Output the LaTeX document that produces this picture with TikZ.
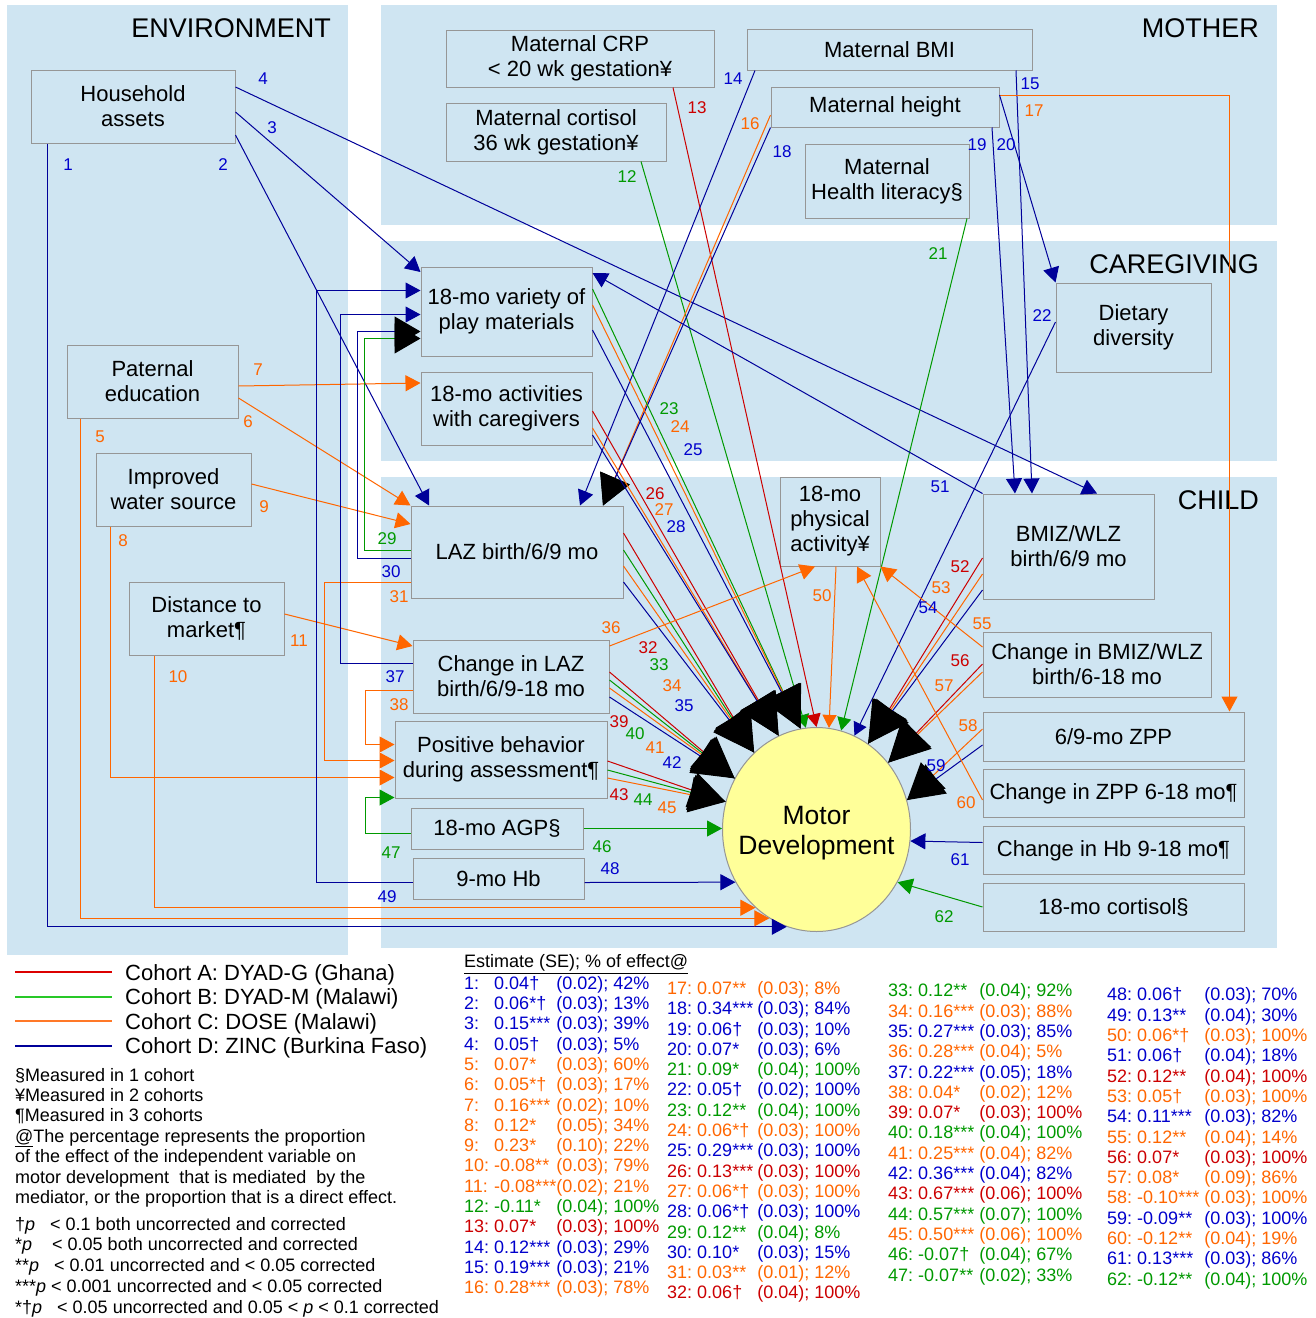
\documentclass[tikz,border=0pt]{standalone}
\usepackage{fontspec}
\setmainfont{Liberation Sans}
\usetikzlibrary{arrows.meta,shapes.geometric}
\definecolor{bg}{RGB}{207,229,242}
\definecolor{bord}{RGB}{150,150,150}
\definecolor{navy}{RGB}{0,0,153}
\definecolor{cred}{RGB}{204,0,0}
\definecolor{cgreen}{RGB}{0,153,0}
\definecolor{corange}{RGB}{255,102,0}
\definecolor{tblue}{RGB}{0,0,204}
\definecolor{yel}{RGB}{255,255,153}
\definecolor{lgred}{RGB}{220,0,0}
\definecolor{lggreen}{RGB}{40,200,40}
\definecolor{lgorange}{RGB}{255,120,40}
\newcommand\mylab[4]{\node[lab,text=#1] (n#2) at (#3,#4) {#2};}
\newcommand\bx[6]{\node[box,minimum width=#4pt,minimum height=#5pt] (#1) at (#2,#3) {#6};}
\newcommand\rw[4]{\textcolor{#1}{#2}&\textcolor{#1}{#3}&\textcolor{#1}{#4}\\}
\begin{document}
\begin{tikzpicture}[x=1pt,y=-1pt,
  box/.style={draw=bord,fill=bg,line width=1pt,align=center,inner sep=0pt,font=\fontsize{22}{25}\selectfont},
  ttl/.style={font=\fontsize{27}{30}\selectfont,inner sep=0pt,anchor=east},
  lab/.style={font=\fontsize{17}{20}\selectfont,inner sep=0pt},
  cA/.style={draw=cred,line width=1pt},
  cB/.style={draw=cgreen,line width=1pt},
  cC/.style={draw=corange,line width=1pt},
  cD/.style={draw=navy,line width=1pt},
  arr/.style={-{Triangle[length=15pt,width=16pt]}},
  arrs/.style={-{Triangle[length=13pt,width=14pt]}},
  big/.style={-{Triangle[length=41pt,width=40pt,color=black]}},
  bigZ/.style={-{Triangle[length=36pt,width=36pt,color=black]}},
  bigL/.style={-{Triangle[length=30pt,width=32pt,color=black]}},
  bigP/.style={-{Triangle[length=26pt,width=30pt,color=black]}},
  lgline/.style={line width=1.1pt},
  lgtext/.style={font=\fontsize{22}{25}\selectfont,inner sep=0pt,anchor=base west},
  note/.style={font=\fontsize{18}{20.35}\selectfont,inner sep=0pt,anchor=north west},
  tbl/.style={font=\fontsize{18}{20.3}\selectfont,inner sep=0pt,anchor=north west}]
\useasboundingbox (0,0) rectangle (1316,1318);
\fill[white] (0,0) rectangle (1316,1318);
% panels
\fill[bg] (7,5) rectangle (348,955);
\fill[bg] (381,5) rectangle (1277,225);
\fill[bg] (381,241) rectangle (1277,461);
\fill[bg] (381,477) rectangle (1277,948);
\node[ttl] (tEnv) at (331,28) {ENVIRONMENT};
\node[ttl] (tMo) at (1259,28) {MOTHER};
\node[ttl] (tCg) at (1259,264) {CAREGIVING};
\node[ttl] (tCh) at (1259,500) {CHILD};
% nodes
\bx{ha}{133}{106.5}{204}{73}{Household\\assets}
\bx{pe}{152.5}{381.5}{171}{73}{Paternal\\education}
\bx{iw}{173.5}{489.5}{155}{73}{Improved\\water source}
\bx{dm}{206.5}{618.5}{155}{73}{Distance to\\market¶}
\bx{crp}{580}{58.5}{268}{57}{Maternal CRP\\< 20 wk gestation¥}
\bx{mco}{556}{132}{220}{58}{Maternal cortisol\\36 wk gestation¥}
\bx{bmi}{889.5}{49.5}{285}{41}{Maternal BMI}
\bx{mh}{885}{107}{228}{40}{Maternal height}
\bx{hl}{887}{181}{164}{74}{Maternal\\Health literacy§}
\bx{dd}{1133.5}{327.5}{155}{89}{Dietary\\diversity}
\bx{pm}{506.5}{311.5}{171}{89}{18-mo variety of\\play materials}
\bx{ac}{506.5}{408.5}{171}{73}{18-mo activities\\with caregivers}
\bx{laz}{517}{552}{212}{92}{LAZ birth/6/9 mo}
\bx{claz}{511}{676.5}{196}{73}{Change in LAZ\\birth/6/9-18 mo}
\bx{pb}{501}{759.5}{212}{77}{Positive behavior\\during assessment¶}
\bx{agp}{497}{828.5}{172}{41}{18-mo AGP§}
\bx{hb}{498.5}{878.5}{171}{41}{9-mo Hb}
\bx{pa}{830}{521.5}{100}{89}{18-mo\\physical\\activity¥}
\bx{bmiz}{1068.5}{546.5}{171}{105}{BMIZ/WLZ\\birth/6/9 mo}
\bx{cbmiz}{1097}{664.5}{228}{65}{Change in BMIZ/WLZ\\birth/6-18 mo}
\bx{zpp}{1113.5}{736.5}{261}{49}{6/9-mo ZPP}
\bx{czpp}{1113.5}{793.5}{261}{48}{Change in ZPP 6-18 mo¶}
\bx{chb}{1113.5}{850.5}{261}{48}{Change in Hb 9-18 mo¶}
\bx{cort}{1113.5}{907.5}{261}{48}{18-mo cortisol§}
\node[draw=bord,fill=yel,line width=1pt,ellipse,minimum width=188pt,minimum height=204pt,inner sep=0pt] (md) at (816.5,829.5) {};
\node[align=center,inner sep=0pt,font=\fontsize{26.5}{30}\selectfont] (mdt) at (816.5,833) {Motor\\Development};
% environment connectors
\draw[cD,arr] (ha.south -| 47.5,0) |- (md.253);
\draw[cD,arr] (ha.east |- 0,135) -- (laz.north -| 429,0);
\draw[cD,arr] (ha.east |- 0,112) -- (pm.west |- 0,272);
\draw[cD,arr] (ha.east |- 0,87) -- (bmiz.north -| 1097,0);
\draw[cC,arr] (pe.south -| 80.5,0) |- (md.242);
\draw[cC,arr] (pe.east |- 0,398) -- (laz.north west);
\draw[cC,arr] (pe.east |- 0,386) -- (ac.west |- 0,383);
\draw[cC,arr] (iw.south -| 110.5,0) |- (pb.west |- 0,777.5);
\draw[cC,arr] (iw.east |- 0,484) -- (laz.west |- 0,524);
\draw[cC,arr] (dm.south -| 154.5,0) |- (md.232);
\draw[cC,arr] (dm.east |- 0,614) -- (claz.west |- 0,646);
% mother connectors
\draw[cB,arrs] (mco.south -| 641,0) -- (md.96);
\draw[cA,arrs] (crp.south -| 673,0) -- (md.90);
\draw[cD,arr] (bmi.south -| 755,0) -- (laz.north -| 580,0);
\draw[cD,arr] (bmi.south -| 1016,0) -- (bmiz.north -| 1032,0);
\draw[cC,bigL] (mh.west |- 0,115) -- (laz.north -| 603,0);
\draw[cC,arr] (mh.east |- 0,95.5) -| (zpp.north -| 1229.5,0);
\draw[cD,bigL] (mh.south west) -- (laz.north -| 603,0);
\draw[cD,arr] (mh.south -| 992,0) -- (bmiz.north -| 1015,0);
\draw[cD,arr] (mh.east |- 0,95) -- (dd.north west);
\draw[cB,arrs] (hl.south -| 967,0) -- (md.76);
\draw[cD,arrs] (dd.west |- 0,322) -- (md.68);
% caregiving connectors
\draw[cB,big] (pm.east |- 0,289) -- (md.99);
\draw[cC,big] (pm.east |- 0,305) -- (md.99);
\draw[cD,big] (pm.east |- 0,330) -- (md.99);
\draw[cA,big] (ac.east |- 0,411) -- (md.112);
\draw[cC,big] (ac.east |- 0,428) -- (md.112);
\draw[cD,big] (ac.east |- 0,435) -- (md.112);
% child connectors
\draw[cB,bigP] (laz.west |- 0,550.5) -- (364.5,550.5) |- (pm.west |- 0,338.5);
\draw[cD,bigP] (laz.west |- 0,558.5) -- (357.5,558.5) |- (pm.west |- 0,331.5);
\draw[cC,arr] (laz.west |- 0,582.5) -- (324.5,582.5) |- (pb.west |- 0,760.5);
\draw[cA,big] (laz.east |- 0,533) -- (md.129);
\draw[cB,big] (laz.east |- 0,550) -- (md.129);
\draw[cC,big] (laz.east |- 0,566) -- (md.129);
\draw[cD,big] (laz.east |- 0,582) -- (md.129);
\draw[cC,arr] (claz.east |- 0,646) -- (pa.south -| 815,0);
\draw[cD,arr] (claz.west |- 0,663.5) -- (340.5,663.5) |- (pm.west |- 0,314.5);
\draw[cC,arr] (claz.west |- 0,690.5) -- (365.5,690.5) |- (pb.west |- 0,744.5);
\draw[cA,big] (claz.east |- 0,672) -- (md.148);
\draw[cB,big] (claz.east |- 0,680) -- (md.148);
\draw[cC,big] (claz.east |- 0,688) -- (md.148);
\draw[cD,big] (claz.east |- 0,697) -- (md.148);
\draw[cA,bigZ] (pb.east |- 0,761) -- (md.163);
\draw[cB,bigZ] (pb.east |- 0,770) -- (md.163);
\draw[cC,bigZ] (pb.east |- 0,778) -- (md.163);
\draw[cB,arr] (agp.east) -- (md.west |- agp.east);
\draw[cB,arr] (agp.west |- 0,833.5) -- (365.5,833.5) |- (pb.west |- 0,797.5);
\draw[cD,arr] (hb.east |- 0,882.5) -- (md.213);
\draw[cD,arr] (hb.west |- 0,882.5) -- (316.5,882.5) |- (pm.west |- 0,290.5);
\draw[cC,arrs] (pa.south -| 836,0) -- (md.83);
\draw[cD,arr] (bmiz.north west) -- (pm.east |- 0,273);
\draw[cA,big] (bmiz.west |- 0,558) -- (md.59);
\draw[cC,big] (bmiz.west |- 0,574) -- (md.59);
\draw[cD,big] (bmiz.west |- 0,590) -- (md.59);
\draw[cC,arr] (cbmiz.west |- 0,647) -- (pa.south east);
\draw[cA,big] (cbmiz.west |- 0,664) -- (md.43);
\draw[cC,big] (cbmiz.west |- 0,672) -- (md.43);
\draw[cC,bigZ] (zpp.west |- 0,729) -- (md.18);
\draw[cD,bigZ] (zpp.west |- 0,745) -- (md.18);
\draw[cC,arr] (czpp.west |- 0,800) -- (pa.south -| 857,0);
\draw[cD,arr] (chb.west |- 0,842.5) -- (md.-7);
\draw[cB,arr] (cort.west |- 0,907) -- (md.-33);
% labels
\mylab{tblue}{1}{68}{165}
\mylab{tblue}{2}{223}{165}
\mylab{tblue}{3}{272}{128}
\mylab{tblue}{4}{263}{79}
\mylab{corange}{5}{100}{437}
\mylab{corange}{6}{248}{422}
\mylab{corange}{7}{258}{370}
\mylab{corange}{8}{123}{541}
\mylab{corange}{9}{264}{507}
\mylab{corange}{10}{178}{677}
\mylab{corange}{11}{299}{641}
\mylab{cgreen}{12}{627}{177}
\mylab{cred}{13}{697}{108}
\mylab{tblue}{14}{733}{79}
\mylab{tblue}{15}{1030}{84}
\mylab{corange}{16}{750}{124}
\mylab{corange}{17}{1034}{111}
\mylab{tblue}{18}{782}{152}
\mylab{tblue}{19}{977}{145}
\mylab{tblue}{20}{1006}{145}
\mylab{cgreen}{21}{938}{254}
\mylab{tblue}{22}{1042}{316}
\mylab{cgreen}{23}{669}{409}
\mylab{corange}{24}{680}{427}
\mylab{tblue}{25}{693}{450}
\mylab{cred}{26}{655}{494}
\mylab{corange}{27}{664}{510}
\mylab{tblue}{28}{676}{527}
\mylab{cgreen}{29}{387}{539}
\mylab{tblue}{30}{391}{572}
\mylab{corange}{31}{399}{597}
\mylab{cred}{32}{648}{648}
\mylab{cgreen}{33}{659}{665}
\mylab{corange}{34}{672}{686}
\mylab{tblue}{35}{684}{706}
\mylab{corange}{36}{611}{628}
\mylab{tblue}{37}{395}{677}
\mylab{corange}{38}{399}{705}
\mylab{cred}{39}{619}{722}
\mylab{cgreen}{40}{635}{734}
\mylab{corange}{41}{655}{748}
\mylab{tblue}{42}{672}{763}
\mylab{cred}{43}{619}{795}
\mylab{cgreen}{44}{643}{800}
\mylab{corange}{45}{667}{808}
\mylab{cgreen}{46}{602}{847}
\mylab{cgreen}{47}{391}{853}
\mylab{tblue}{48}{610}{869}
\mylab{tblue}{49}{387}{897}
\mylab{corange}{50}{822}{596}
\mylab{tblue}{51}{940}{487}
\mylab{cred}{52}{960}{567}
\mylab{corange}{53}{941}{588}
\mylab{tblue}{54}{928}{608}
\mylab{corange}{55}{982}{624}
\mylab{cred}{56}{960}{661}
\mylab{corange}{57}{944}{686}
\mylab{corange}{58}{968}{726}
\mylab{tblue}{59}{936}{766}
\mylab{corange}{60}{966}{803}
\mylab{tblue}{61}{960}{860}
\mylab{cgreen}{62}{944}{917}
% legend
\coordinate (sA) at (15,972);
\coordinate (sB) at (15,997);
\coordinate (sC) at (15,1021);
\coordinate (sD) at (15,1046);
\draw[lgline,draw=lgred] (sA) -- ++(97,0);
\draw[lgline,draw=lggreen] (sB) -- ++(97,0);
\draw[lgline,draw=lgorange] (sC) -- ++(97,0);
\draw[lgline,draw=navy] (sD) -- ++(97,0);
\node[lgtext] (lgA) at (125,980) {Cohort A: DYAD-G (Ghana)};
\node[lgtext] (lgB) at (125,1004.5) {Cohort B: DYAD-M (Malawi)};
\node[lgtext] (lgC) at (125,1029) {Cohort C: DOSE (Malawi)};
\node[lgtext] (lgD) at (125,1053.5) {Cohort D: ZINC (Burkina Faso)};
\node[note] (nt1) at (15,1066.8) {\begin{tabular}{@{}l@{}}
§Measured in 1 cohort\\
¥Measured in 2 cohorts\\
¶Measured in 3 cohorts\\
\underline{@}The percentage represents the proportion\\
of the effect of the independent variable on\\
motor development~ that is mediated~ by the\\
mediator, or the proportion that is a direct effect.
\end{tabular}};
\node[note,font=\fontsize{18}{20.7}\selectfont] (nt2) at (15,1215.5) {\begin{tabular}{@{}l@{}}
†\textit{p}~~ < 0.1 both uncorrected and corrected\\
{}*\textit{p}~~~ < 0.05 both uncorrected and corrected\\
{}**\textit{p}~~ < 0.01 uncorrected and < 0.05 corrected\\
{}***\textit{p} < 0.001 uncorrected and < 0.05 corrected\\
{}*†\textit{p}~~ < 0.05 uncorrected and 0.05 < \textit{p} < 0.1 corrected
\end{tabular}};
% estimates table
\node[inner sep=0pt,anchor=base west,font=\fontsize{18}{20.3}\selectfont] (th) at (464,967.7) {\underline{Estimate (SE); \% of effect@}};
\node[tbl] (tc1) at (464,974.8) {\begin{tabular}{@{}l@{\ }l@{}l@{}}
\rw{tblue}{1:}{0.04†}{(0.02); 42\%}
\rw{tblue}{2:}{0.06*†}{(0.03); 13\%}
\rw{tblue}{3:}{0.15***}{(0.03); 39\%}
\rw{tblue}{4:}{0.05†}{(0.03); 5\%}
\rw{corange}{5:}{0.07*}{(0.03); 60\%}
\rw{corange}{6:}{0.05*†}{(0.03); 17\%}
\rw{corange}{7:}{0.16***}{(0.02); 10\%}
\rw{corange}{8:}{0.12*}{(0.05); 34\%}
\rw{corange}{9:}{0.23*}{(0.10); 22\%}
\rw{corange}{10:}{-0.08**}{(0.03); 79\%}
\rw{corange}{11:}{-0.08***}{(0.02); 21\%}
\rw{cgreen}{12:}{-0.11*}{(0.04); 100\%}
\rw{cred}{13:}{0.07*}{(0.03); 100\%}
\rw{tblue}{14:}{0.12***}{(0.03); 29\%}
\rw{tblue}{15:}{0.19***}{(0.03); 21\%}
\rw{corange}{16:}{0.28***}{(0.03); 78\%}
\end{tabular}};
\node[tbl] (tc2) at (667,980) {\begin{tabular}{@{}l@{\ }l@{\hspace{4pt}}l@{}}
\rw{corange}{17:}{0.07**}{(0.03); 8\%}
\rw{tblue}{18:}{0.34***}{(0.03); 84\%}
\rw{tblue}{19:}{0.06†}{(0.03); 10\%}
\rw{tblue}{20:}{0.07*}{(0.03); 6\%}
\rw{cgreen}{21:}{0.09*}{(0.04); 100\%}
\rw{tblue}{22:}{0.05†}{(0.02); 100\%}
\rw{cgreen}{23:}{0.12**}{(0.04); 100\%}
\rw{corange}{24:}{0.06*†}{(0.03); 100\%}
\rw{tblue}{25:}{0.29***}{(0.03); 100\%}
\rw{cred}{26:}{0.13***}{(0.03); 100\%}
\rw{corange}{27:}{0.06*†}{(0.03); 100\%}
\rw{tblue}{28:}{0.06*†}{(0.03); 100\%}
\rw{cgreen}{29:}{0.12**}{(0.04); 8\%}
\rw{tblue}{30:}{0.10*}{(0.03); 15\%}
\rw{corange}{31:}{0.03**}{(0.01); 12\%}
\rw{cred}{32:}{0.06†}{(0.04); 100\%}
\end{tabular}};
\node[tbl] (tc3) at (888,982.4) {\begin{tabular}{@{}l@{\ }l@{\hspace{5pt}}l@{}}
\rw{cgreen}{33:}{0.12**}{(0.04); 92\%}
\rw{corange}{34:}{0.16***}{(0.03); 88\%}
\rw{tblue}{35:}{0.27***}{(0.03); 85\%}
\rw{corange}{36:}{0.28***}{(0.04); 5\%}
\rw{tblue}{37:}{0.22***}{(0.05); 18\%}
\rw{corange}{38:}{0.04*}{(0.02); 12\%}
\rw{cred}{39:}{0.07*}{(0.03); 100\%}
\rw{cgreen}{40:}{0.18***}{(0.04); 100\%}
\rw{corange}{41:}{0.25***}{(0.04); 82\%}
\rw{tblue}{42:}{0.36***}{(0.04); 82\%}
\rw{cred}{43:}{0.67***}{(0.06); 100\%}
\rw{cgreen}{44:}{0.57***}{(0.07); 100\%}
\rw{corange}{45:}{0.50***}{(0.06); 100\%}
\rw{cgreen}{46:}{-0.07†}{(0.04); 67\%}
\rw{cgreen}{47:}{-0.07**}{(0.02); 33\%}
\end{tabular}};
\node[tbl] (tc4) at (1107,986.5) {\begin{tabular}{@{}l@{\ }l@{\hspace{5pt}}l@{}}
\rw{tblue}{48:}{0.06†}{(0.03); 70\%}
\rw{tblue}{49:}{0.13**}{(0.04); 30\%}
\rw{corange}{50:}{0.06*†}{(0.03); 100\%}
\rw{tblue}{51:}{0.06†}{(0.04); 18\%}
\rw{cred}{52:}{0.12**}{(0.04); 100\%}
\rw{corange}{53:}{0.05†}{(0.03); 100\%}
\rw{tblue}{54:}{0.11***}{(0.03); 82\%}
\rw{corange}{55:}{0.12**}{(0.04); 14\%}
\rw{cred}{56:}{0.07*}{(0.03); 100\%}
\rw{corange}{57:}{0.08*}{(0.09); 86\%}
\rw{corange}{58:}{-0.10***}{(0.03); 100\%}
\rw{tblue}{59:}{-0.09**}{(0.03); 100\%}
\rw{corange}{60:}{-0.12**}{(0.04); 19\%}
\rw{tblue}{61:}{0.13***}{(0.03); 86\%}
\rw{cgreen}{62:}{-0.12**}{(0.04); 100\%}
\end{tabular}};
\end{tikzpicture}
\end{document}
